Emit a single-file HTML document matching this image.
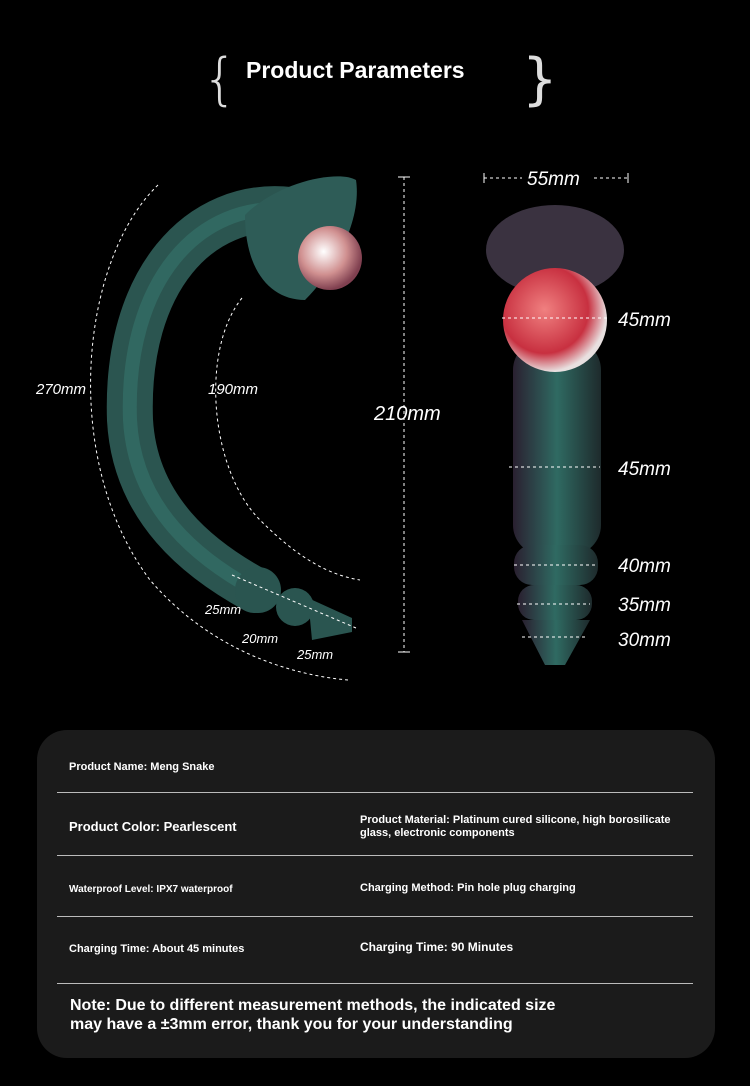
<!DOCTYPE html>
<html><head><meta charset="utf-8"><style>
body{margin:0;background:#000;width:750px;height:1086px;overflow:hidden;font-family:"Liberation Sans",sans-serif;position:relative}
.t{position:absolute;color:#fff;font-weight:bold;white-space:nowrap}
.card{position:absolute;left:37px;top:730px;width:678px;height:328px;background:#1b1b1b;border-radius:30px}
.ln{position:absolute;left:57px;width:636px;height:1px;background:#bbb}
</style></head><body>
<svg width="750" height="720" style="position:absolute;left:0;top:0">
<defs>
<linearGradient id="g1" x1="0" y1="0" x2="1" y2="0"><stop offset="0" stop-color="#2a2030"/><stop offset=".5" stop-color="#2f6a62"/><stop offset="1" stop-color="#1e2a2c"/></linearGradient>
<radialGradient id="rb" cx=".4" cy=".4" r=".6"><stop offset="0" stop-color="#f08080"/><stop offset=".7" stop-color="#c83040"/><stop offset="1" stop-color="#e8e0e0"/></radialGradient>
<radialGradient id="pb" cx=".4" cy=".4" r=".6"><stop offset="0" stop-color="#fff"/><stop offset=".6" stop-color="#d09090"/><stop offset="1" stop-color="#804050"/></radialGradient>
</defs>
<text x="202" y="98" fill="#ddd" font-size="56" font-family="DejaVu Sans" font-weight="100" transform="scale(1,1)">{</text>
<text x="522" y="98" fill="#ddd" font-size="56" font-family="DejaVu Sans">}</text>
<!-- left snake -->
<path d="M290 210 C200 200 125 280 130 420 C135 510 200 560 255 590" stroke="#2b5550" stroke-width="46" fill="none" stroke-linecap="round"/>
<path d="M290 210 C200 200 125 280 130 420 C135 510 200 560 255 590" stroke="#3a8075" stroke-width="14" fill="none" opacity=".45"/>
<circle cx="258" cy="590" r="23" fill="#2a5550"/><circle cx="295" cy="607" r="19" fill="#2a5550"/><path d="M308 598 L352 618 L352 632 L312 640 Z" fill="#2a5550"/>
<path d="M245 215 C280 180 340 170 356 180 C362 220 335 270 305 300 C270 300 245 270 245 215Z" fill="#2e5c57"/>
<circle cx="330" cy="258" r="32" fill="url(#pb)"/>
<!-- right snake -->
<rect x="513" y="340" width="88" height="215" rx="30" fill="url(#g1)"/>
<rect x="514" y="545" width="84" height="40" rx="18" fill="url(#g1)"/>
<rect x="518" y="585" width="74" height="35" rx="16" fill="url(#g1)"/>
<path d="M522 620 L590 620 L565 665 L545 665Z" fill="url(#g1)"/>
<ellipse cx="555" cy="250" rx="69" ry="45" fill="#3a3240"/>
<circle cx="555" cy="320" r="52" fill="url(#rb)"/>
<g stroke="#fff" stroke-width="1" stroke-dasharray="3,3" fill="none">
<path d="M158 185 C80 260 60 460 150 580 C210 650 290 675 348 680"/>
<path d="M242 298 C200 350 210 470 260 520 C300 560 330 575 360 580"/>
<line x1="404" y1="177" x2="404" y2="652"/>
<line x1="484" y1="178" x2="522" y2="178"/><line x1="594" y1="178" x2="628" y2="178"/>
<line x1="502" y1="318" x2="607" y2="318"/><line x1="509" y1="467" x2="600" y2="467"/>
<line x1="514" y1="565" x2="595" y2="565"/><line x1="517" y1="604" x2="590" y2="604"/><line x1="522" y1="637" x2="586" y2="637"/>
<line x1="232" y1="575" x2="356" y2="628"/>
</g>
<g stroke="#fff" stroke-width="1"><line x1="398" y1="177" x2="410" y2="177"/><line x1="398" y1="652" x2="410" y2="652"/><line x1="484" y1="173" x2="484" y2="183"/><line x1="628" y1="173" x2="628" y2="183"/></g>
<g fill="#fff" font-style="italic" font-size="15">
<text x="36" y="394">270mm</text><text x="208" y="394">190mm</text>
<text x="374" y="420" font-size="20">210mm</text>
<text x="527" y="185" font-size="19">55mm</text>
<text x="618" y="326" font-size="19">45mm</text><text x="618" y="475" font-size="19">45mm</text>
<text x="618" y="572" font-size="19">40mm</text><text x="618" y="611" font-size="19">35mm</text><text x="618" y="646" font-size="19">30mm</text>
<text x="205" y="614" font-size="13">25mm</text><text x="242" y="643" font-size="13">20mm</text><text x="297" y="659" font-size="13">25mm</text>
</g>
</svg>
<div class="t" style="left:246px;top:57px;font-size:23px">Product Parameters</div>
<div class="card"></div>
<div class="ln" style="top:792px"></div><div class="ln" style="top:855px"></div><div class="ln" style="top:916px"></div><div class="ln" style="top:983px"></div>
<div class="t" style="left:69px;top:761px;font-size:11px">Product Name: Meng Snake</div>
<div class="t" style="left:69px;top:819px;font-size:13px">Product Color: Pearlescent</div>
<div class="t" style="left:360px;top:814px;font-size:11px;line-height:13px">Product Material: Platinum cured silicone, high borosilicate<br>glass, electronic components</div>
<div class="t" style="left:69px;top:884px;font-size:10px">Waterproof Level: IPX7 waterproof</div>
<div class="t" style="left:360px;top:882px;font-size:11px">Charging Method: Pin hole plug charging</div>
<div class="t" style="left:69px;top:943px;font-size:11px">Charging Time: About 45 minutes</div>
<div class="t" style="left:360px;top:940px;font-size:12px">Charging Time: 90 Minutes</div>
<div class="t" style="left:70px;top:996px;font-size:16px;line-height:19px">Note: Due to different measurement methods, the indicated size<br>may have a ±3mm error, thank you for your understanding</div>
</body></html>
